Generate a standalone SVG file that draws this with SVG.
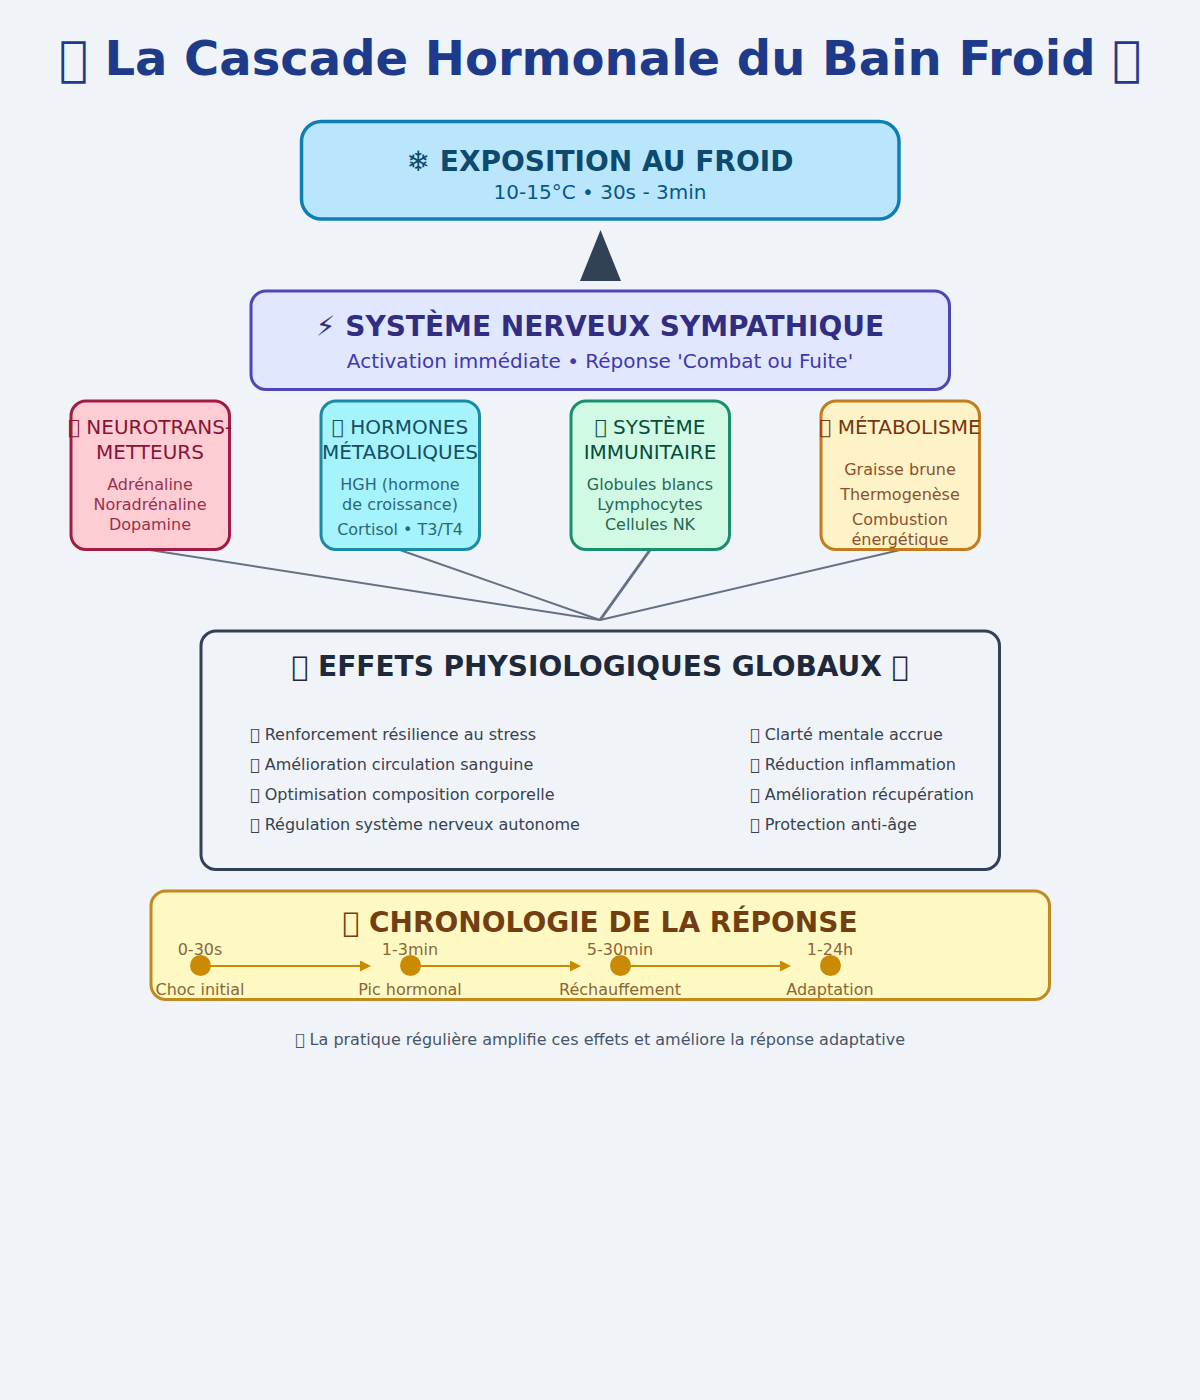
<svg xmlns="http://www.w3.org/2000/svg" width="1200" height="1400" viewBox="0 0 1200 1400">
<style>
text{font-family:"DejaVu Sans",sans-serif;text-anchor:middle}
.l{text-anchor:start;font-size:16px;fill:#374151}
.b{font-weight:bold}
.s{font-size:16px;opacity:.85}
.t{font-size:16px;fill:#713f12;opacity:.8}
.conn{stroke:#667085;stroke-width:2;fill:none}
.tl{stroke:#ca8a04;stroke-width:2;marker-end:url(#tip)}
</style>
<defs>
<marker id="tip" markerWidth="11" markerHeight="11" refX="0" refY="5.500" orient="auto" markerUnits="userSpaceOnUse"><polygon points="0 0, 11 5.500, 0 11" fill="#ca8a04"/></marker>
</defs>
<rect width="1200" height="1400" fill="#f0f4f8"/>
<text id="title" x="600" y="75" font-size="48" class="b" fill="#1e3a8a">&#xE000; La Cascade Hormonale du Bain Froid &#xE000;</text>

<g id="connectors">
<polygon points="600.500,230 621,281 580,281" fill="#334155"/>
<line class="conn" x1="150" y1="550" x2="600" y2="620"/>
<line class="conn" x1="400" y1="550" x2="600" y2="620"/>
<line class="conn" x1="650" y1="550" x2="600" y2="620" style="stroke-width:3"/>
<line class="conn" x1="900" y1="550" x2="600" y2="620"/>
</g>

<g id="node-froid">
<rect x="301.500" y="121.500" width="597.500" height="97.500" rx="20" fill="#bae6fd" stroke="#0e7fb5" stroke-width="3.500"/>
<text x="600" y="171" font-size="28" class="b" fill="#0c4a6e">❄ EXPOSITION AU FROID</text>
<text x="600" y="199" font-size="20" fill="#075985">10-15°C • 30s - 3min</text>
</g>

<g id="node-sympathique">
<rect x="251" y="291" width="698.500" height="98.500" rx="15" fill="#e0e7ff" stroke="#4f46b5" stroke-width="3"/>
<text x="600" y="336" font-size="28" class="b" fill="#312e81">⚡ SYSTÈME NERVEUX SYMPATHIQUE</text>
<text x="600" y="368" font-size="20" fill="#4338b0">Activation immédiate • Réponse 'Combat ou Fuite'</text>
</g>

<g id="node-neuro">
<rect x="71" y="401" width="158.500" height="148.500" rx="15" fill="#fecdd3" stroke="#a01c45" stroke-width="3"/>
<text x="150" y="434" font-size="20" fill="#881337">&#xE000; NEUROTRANS-</text>
<text x="150" y="459" font-size="20" fill="#881337">METTEURS</text>
<text x="150" y="490" class="s" fill="#881337">Adrénaline</text>
<text x="150" y="510" class="s" fill="#881337">Noradrénaline</text>
<text x="150" y="530" class="s" fill="#881337">Dopamine</text>
</g>

<g id="node-hormones">
<rect x="321" y="401" width="158.500" height="148.500" rx="15" fill="#a5f3fc" stroke="#1a8ba5" stroke-width="3"/>
<text x="400" y="434" font-size="20" fill="#164e63">&#xE000; HORMONES</text>
<text x="400" y="459" font-size="20" fill="#164e63">MÉTABOLIQUES</text>
<text x="400" y="490" class="s" fill="#164e63">HGH (hormone</text>
<text x="400" y="510" class="s" fill="#164e63">de croissance)</text>
<text x="400" y="535" class="s" fill="#164e63">Cortisol • T3/T4</text>
</g>

<g id="node-immunitaire">
<rect x="571" y="401" width="158.500" height="148.500" rx="15" fill="#d1fae5" stroke="#1a8f6c" stroke-width="3"/>
<text x="650" y="434" font-size="20" fill="#064e3b">&#xE000; SYSTÈME</text>
<text x="650" y="459" font-size="20" fill="#064e3b">IMMUNITAIRE</text>
<text x="650" y="490" class="s" fill="#064e3b">Globules blancs</text>
<text x="650" y="510" class="s" fill="#064e3b">Lymphocytes</text>
<text x="650" y="530" class="s" fill="#064e3b">Cellules NK</text>
</g>

<g id="node-metabolisme">
<rect x="821" y="401" width="158.500" height="148.500" rx="15" fill="#fef3c7" stroke="#c27c1e" stroke-width="3"/>
<text x="900" y="434" font-size="20" fill="#78350f">&#xE000; MÉTABOLISME</text>
<text x="900" y="475" class="s" fill="#78350f">Graisse brune</text>
<text x="900" y="500" class="s" fill="#78350f">Thermogenèse</text>
<text x="900" y="525" class="s" fill="#78350f">Combustion</text>
<text x="900" y="545" class="s" fill="#78350f">énergétique</text>
</g>

<g id="node-effets">
<rect x="201" y="631" width="798.500" height="238.500" rx="15" fill="#f0f4f8" stroke="#334155" stroke-width="3"/>
<text x="600" y="676" font-size="28" class="b" fill="#1e293b">&#xE000; EFFETS PHYSIOLOGIQUES GLOBAUX &#xE000;</text>
<text class="l" x="250" y="740">&#xE000; Renforcement résilience au stress</text>
<text class="l" x="250" y="770">&#xE000; Amélioration circulation sanguine</text>
<text class="l" x="250" y="800">&#xE000; Optimisation composition corporelle</text>
<text class="l" x="250" y="830">&#xE000; Régulation système nerveux autonome</text>
<text class="l" x="750" y="740">&#xE000; Clarté mentale accrue</text>
<text class="l" x="750" y="770">&#xE000; Réduction inflammation</text>
<text class="l" x="750" y="800">&#xE000; Amélioration récupération</text>
<text class="l" x="750" y="830">&#xE000; Protection anti-âge</text>
</g>

<g id="node-chronologie">
<rect x="151" y="891" width="898.500" height="108.500" rx="15" fill="#fef9c3" stroke="#bf8a20" stroke-width="3"/>
<text x="600" y="932" font-size="28" class="b" fill="#713f12">&#xE000; CHRONOLOGIE DE LA RÉPONSE</text>
</g>

<g id="timeline-connectors">
<line class="tl" x1="210" y1="966" x2="360" y2="966"/>
<line class="tl" x1="420" y1="966" x2="570" y2="966"/>
<line class="tl" x1="630" y1="966" x2="780" y2="966"/>
</g>

<g id="step-1"><text class="t" x="200" y="955">0-30s</text><circle cx="200.500" cy="965.500" r="10.500" fill="#ca8a04"/><text class="t" x="200" y="995">Choc initial</text></g>
<g id="step-2"><text class="t" x="410" y="955">1-3min</text><circle cx="410.500" cy="965.500" r="10.500" fill="#ca8a04"/><text class="t" x="410" y="995">Pic hormonal</text></g>
<g id="step-3"><text class="t" x="620" y="955">5-30min</text><circle cx="620.500" cy="965.500" r="10.500" fill="#ca8a04"/><text class="t" x="620" y="995">Réchauffement</text></g>
<g id="step-4"><text class="t" x="830" y="955">1-24h</text><circle cx="830.500" cy="965.500" r="10.500" fill="#ca8a04"/><text class="t" x="830" y="995">Adaptation</text></g>

<text id="note" x="600" y="1045" font-size="16" fill="#475569">&#xE000; La pratique régulière amplifie ces effets et améliore la réponse adaptative</text>
</svg>
